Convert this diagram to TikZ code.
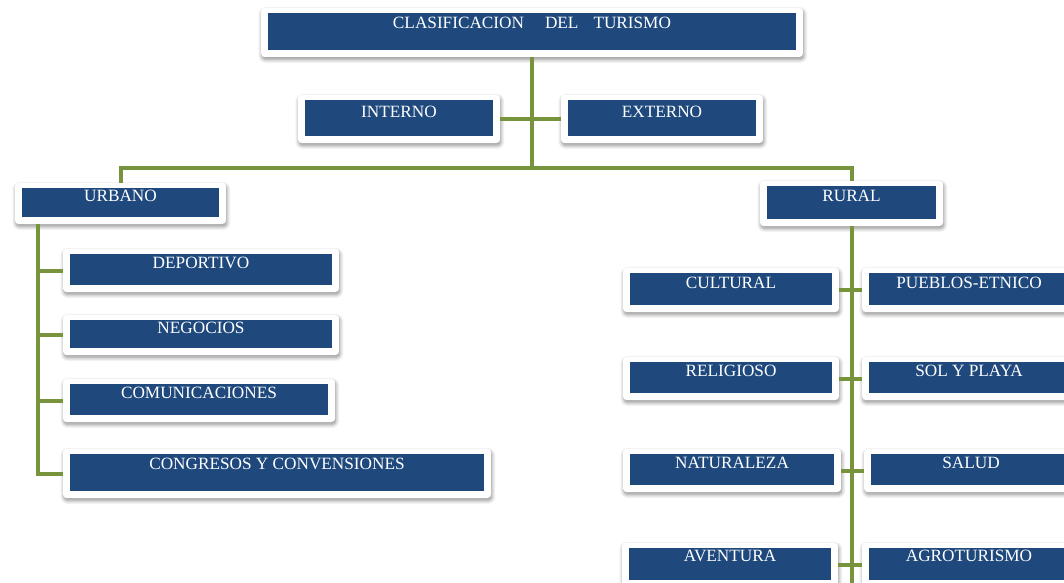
\documentclass[tikz,border=0pt]{standalone}
\usepackage{fontspec}
\setmainfont{Liberation Serif}
\usetikzlibrary{shadows.blur}
\definecolor{tblue}{RGB}{31,73,125}
\definecolor{tgreen}{RGB}{119,147,60}

\begin{document}
\begin{tikzpicture}[x=0.02cm, y=-0.02cm,
	box/.style={rectangle, rounded corners=2pt, fill=white, inner sep=0pt,
		blur shadow={shadow xshift=0.5pt, shadow yshift=-1.4pt, shadow blur radius=2.2pt, shadow blur steps=8, shadow opacity=45},
		text=white, font=\fontsize{9.8}{12}\selectfont, text height=6.4pt, text depth=0.3cm,
		path picture={\fill[tblue, sharp corners] ([shift={(0.13cm,-0.1cm)}]path picture bounding box.north west) rectangle ([shift={(-0.14cm,0.15cm)}]path picture bounding box.south east);}},
	link/.style={tgreen, line width=0.08cm}]
			\useasboundingbox (0,0) rectangle (1064,582);
			\clip (0,0) rectangle (1064,582);
			% Nodes
			\node[box, minimum width=10.84cm, minimum height=0.98cm, text depth=0.38cm] (title) at (532,32.5) {CLASIFICACION\hspace{0.42cm}DEL\hspace{0.3cm}TURISMO};
			\node[box, minimum width=4.04cm, minimum height=0.96cm] (interno) at (399,119) {INTERNO};
			\node[box, minimum width=4.04cm, minimum height=0.96cm] (externo) at (662,119) {EXTERNO};
			\node[box, minimum width=4.22cm, minimum height=0.82cm] (urbano) at (120.5,203.5) {URBANO};
			\node[box, minimum width=3.66cm, minimum height=0.9cm] (rural) at (851.5,203.5) {RURAL};
			\node[box, minimum width=5.52cm, minimum height=0.86cm] (deportivo) at (201,270.5) {DEPORTIVO};
			\node[box, minimum width=5.52cm, minimum height=0.8cm] (negocios) at (201,335) {NEGOCIOS};
			\node[box, minimum width=5.44cm, minimum height=0.86cm] (comunicaciones) at (199,400.5) {COMUNICACIONES};
			\node[box, minimum width=8.56cm, minimum height=0.98cm, text depth=0.4cm] (congresos) at (277,473.5) {CONGRESOS Y CONVENSIONES};
			\node[box, minimum width=4.32cm, minimum height=0.88cm] (cultural) at (731,290) {CULTURAL};
			\node[box, minimum width=4.28cm, minimum height=0.88cm] (pueblos) at (969,290) {PUEBLOS-ETNICO};
			\node[box, minimum width=4.32cm, minimum height=0.86cm] (religioso) at (731,378.5) {RELIGIOSO};
			\node[box, minimum width=4.28cm, minimum height=0.86cm] (playa) at (969,378.5) {SOL Y PLAYA};
			\node[box, minimum width=4.36cm, minimum height=0.86cm] (naturaleza) at (732,470.5) {NATURALEZA};
			\node[box, minimum width=4.28cm, minimum height=0.86cm] (salud) at (971,470.5) {SALUD};
			\node[box, minimum width=4.32cm, minimum height=0.88cm, text depth=0.36cm] (aventura) at (730,565) {AVENTURA};
			\node[box, minimum width=4.28cm, minimum height=0.88cm, text depth=0.36cm] (agro) at (969,565) {AGROTURISMO};
			% Links
			\coordinate (split) at (532,168);
			\coordinate (utop) at (38,224);
			\coordinate (rend) at (851.5,590);
			\draw[link] (title) -- (split);
			\draw[link] (interno) -- (externo);
			\draw[link] (urbano) |- (split) -| (rural);
			\draw[link] (utop) |- (congresos);
			\foreach \n in {deportivo,negocios,comunicaciones} {
				\draw[link] (\n) -- (\n -| utop);
			}
			\draw[link] (rural) -- (rend);
			\foreach \a/\b in {cultural/pueblos,religioso/playa,naturaleza/salud,aventura/agro} {
				\draw[link] (\a) -- (\b);
			}
		\end{tikzpicture}
\end{document}
